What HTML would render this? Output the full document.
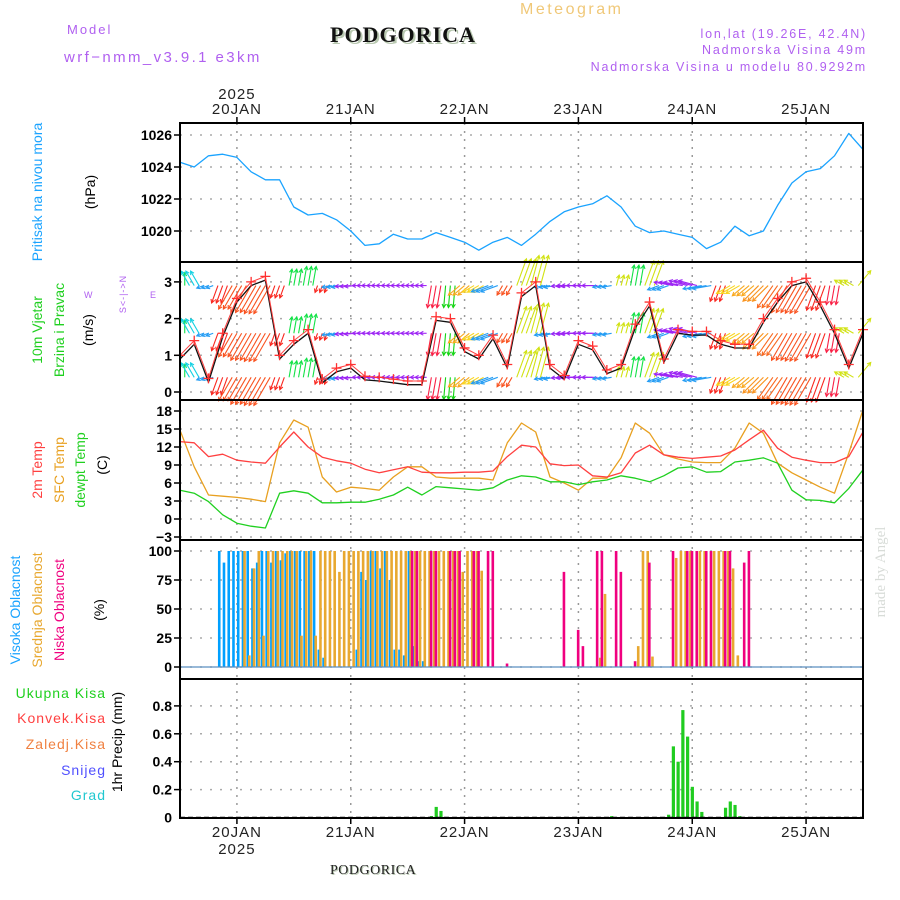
<!DOCTYPE html>
<html><head><meta charset="utf-8"><title>Meteogram Podgorica</title>
<style>
body{margin:0;background:#fff;width:900px;height:900px;overflow:hidden}
svg{display:block;font-family:"Liberation Sans",sans-serif}
.t{font-size:14px;letter-spacing:1px}
.tk{font-size:14px;fill:#000;font-weight:bold}
</style></head><body>
<svg id="chart" width="900" height="900" viewBox="0 0 900 900">
<g>
<text x="67" y="34" fill="#b060f0" style="font-size:13px;letter-spacing:2px">Model</text>
<text x="64" y="62" fill="#b060f0" style="font-size:15px;letter-spacing:2.4px">wrf−nmm_v3.9.1 e3km</text>
<text x="332" y="44" fill="#b8c8b0" style="font-family:'Liberation Serif',serif;font-weight:bold;font-size:22px;letter-spacing:1px">PODGORICA</text>
<text x="330" y="42" fill="#111" style="font-family:'Liberation Serif',serif;font-weight:bold;font-size:22px;letter-spacing:1px">PODGORICA</text>
<text x="520" y="14" fill="#f0c878" style="font-size:16px;letter-spacing:2.5px">Meteogram</text>
<text x="867" y="38" text-anchor="end" fill="#b060f0" style="font-size:12.5px;letter-spacing:1.8px">lon,lat (19.26E, 42.4N)</text>
<text x="867" y="54" text-anchor="end" fill="#b060f0" style="font-size:12.5px;letter-spacing:1.8px">Nadmorska Visina 49m</text>
<text x="867" y="71" text-anchor="end" fill="#b060f0" style="font-size:12.5px;letter-spacing:1.8px">Nadmorska Visina u modelu 80.9292m</text>
<text transform="translate(885,572) rotate(-90)" text-anchor="middle" fill="#d8dcd8" style="font-family:'Liberation Serif',serif;font-size:15px">made by Angel</text>
<text x="331" y="875" fill="#b8c8b0" style="font-family:'Liberation Serif',serif;font-size:14px;letter-spacing:0.5px">PODGORICA</text>
<text x="330" y="874" fill="#222" style="font-family:'Liberation Serif',serif;font-size:14px;letter-spacing:0.5px">PODGORICA</text>
</g>
<g>
<text transform="translate(42,192) rotate(-90)" text-anchor="middle" fill="#1aa3ff" style="font-size:14px">Pritisak na nivou mora</text>
<text transform="translate(95,192) rotate(-90)" text-anchor="middle" fill="#000" style="font-size:14px">(hPa)</text>
<text transform="translate(42,330) rotate(-90)" text-anchor="middle" fill="#20d020" style="font-size:14px">10m Vjetar</text>
<text transform="translate(64,330) rotate(-90)" text-anchor="middle" fill="#20d020" style="font-size:14px">Brzina i Pravac</text>
<text transform="translate(93,330) rotate(-90)" text-anchor="middle" fill="#000" style="font-size:14px">(m/s)</text>
<text transform="translate(126,294) rotate(-90)" text-anchor="middle" fill="#b060f0" style="font-size:9px;letter-spacing:1px">S&lt;-|-&gt;N</text>
<text x="84" y="298" fill="#b060f0" style="font-size:9px">W</text>
<text x="150" y="298" fill="#b060f0" style="font-size:9px">E</text>
<text transform="translate(42,470) rotate(-90)" text-anchor="middle" fill="#ff4040" style="font-size:14px">2m Temp</text>
<text transform="translate(64,470) rotate(-90)" text-anchor="middle" fill="#e8a020" style="font-size:14px">SFC Temp</text>
<text transform="translate(85,470) rotate(-90)" text-anchor="middle" fill="#20d020" style="font-size:14px">dewpt Temp</text>
<text transform="translate(107,465) rotate(-90)" text-anchor="middle" fill="#000" style="font-size:14px">(C)</text>
<text transform="translate(20,610) rotate(-90)" text-anchor="middle" fill="#1aa3ff" style="font-size:14px">Visoka Oblacnost</text>
<text transform="translate(42,610) rotate(-90)" text-anchor="middle" fill="#e8a830" style="font-size:14px">Srednja Oblacnost</text>
<text transform="translate(64,610) rotate(-90)" text-anchor="middle" fill="#f0007f" style="font-size:14px">Niska Oblacnost</text>
<text transform="translate(104,610) rotate(-90)" text-anchor="middle" fill="#000" style="font-size:14px">(%)</text>
<text x="106" y="698" text-anchor="end" fill="#20d020" class="t">Ukupna Kisa</text>
<text x="106" y="723" text-anchor="end" fill="#ff4040" class="t">Konvek.Kisa</text>
<text x="106" y="749" text-anchor="end" fill="#f08040" class="t">Zaledj.Kisa</text>
<text x="106" y="775" text-anchor="end" fill="#5050ff" class="t">Snijeg</text>
<text x="106" y="800" text-anchor="end" fill="#20c8d0" class="t">Grad</text>
<text transform="translate(122,742) rotate(-90)" text-anchor="middle" fill="#000" style="font-size:14px">1hr Precip (mm)</text>
</g>
<g id="grid"></g>
<g id="marks"></g>
<g id="frames"></g>
<g id="ticks"></g>
</svg>
<script>
const dayLabels=["20JAN","21JAN","22JAN","23JAN","24JAN","25JAN"];
const dayHours=[12,36,60,84,108,132];
const pressure=[1024.3,1024,1024.7,1024.8,1024.6,1023.7,1023.2,1023.2,1021.5,1021,1021.1,1020.7,1020,1019.1,1019.2,1019.8,1019.5,1019.5,1019.9,1019.6,1019.3,1018.8,1019.3,1019.6,1019.1,1019.8,1020.6,1021.2,1021.5,1021.7,1022.2,1021.5,1020.3,1019.9,1020,1019.8,1019.6,1018.9,1019.3,1020.3,1019.7,1020,1021.6,1023,1023.7,1023.9,1024.7,1026.1,1025.1];
const pressureTicks=[1020,1022,1024,1026];
const windSpeed=[0.9,1.3,0.27,1.5,2.45,2.9,3.05,0.9,1.3,1.6,0.25,0.55,0.65,0.33,0.3,0.25,0.2,0.2,1.95,1.9,1.1,0.9,1.45,0.65,2.6,2.9,0.65,0.35,1.3,1.15,0.5,0.65,1.75,2.35,0.8,1.6,1.55,1.55,1.3,1.2,1.2,1.9,2.45,2.9,3.0,2.35,1.6,0.65,1.6];
const windDir=[0,330,250,200,210,210,210,200,10,10,200,260,265,270,270,270,270,270,190,185,230,240,250,210,20,15,260,265,270,270,260,15,10,20,250,280,285,260,200,240,230,225,215,210,210,200,190,300,40];
const windTicks=[0,1,2,3];
const temp2m=[12.9,12.7,10.4,10.8,9.8,9.5,9.3,12,14.5,12,10.3,9.7,9.3,8.3,7.7,8.2,8.7,7.8,7.7,7.7,7.8,7.8,8,10.4,12.3,12,9.2,8.9,9,7.2,7,7.7,11,12.3,10.7,10.3,10.1,10.3,10.5,11.5,13.2,14.8,11.8,10.3,9.8,9.4,9.4,10.4,14.5];
const tempSfc=[14.8,8.7,4,3.8,3.6,3.3,2.9,12.7,16.5,15.3,7,4.5,5.3,5.1,4.8,7,8.7,8.7,7,6.8,6.8,6.8,6.5,12.7,16,14.5,7,6,4.8,6.8,6.8,10.2,16,14.3,10.7,10,9.5,9.4,9.4,11.8,16,14.3,9.3,7.7,6.5,5.3,4.3,11,18.2];
const tempDew=[4.8,4.3,2.9,0.7,-0.7,-1.2,-1.5,4.3,4.7,4.3,2.7,2.7,2.8,2.8,3.3,4,5.3,4,5.4,5.2,5,4.8,5.2,6.5,7.2,7,6.2,6.2,5.7,6.2,6.5,7.2,6.8,6.2,7.2,8.5,8.7,7.8,7.9,9.5,9.8,10.2,9.3,4.8,3.2,3.1,2.7,5.1,8.2];
const tempTicks=[-3,0,3,6,9,12,15,18];
const cloudHigh=[0,0,0,0,0,0,0,0,100,90,100,100,100,100,100,85,90,100,100,90,100,92,98,100,100,100,100,100,100,15,8,0,0,0,0,0,0,15,82,75,100,100,85,100,75,15,15,10,100,18,5,5,0,0,0,0,0,0,0,0,0,0,0,0,0,0,0,0,0,0,0,0,0,0,0,0,0,0,0,0,0,0,0,0,0,0,0,0,0,0,0,0,0,0,0,0,0,0,0,0,0,0,0,0,0,0,0,0,0,0,0,0,0,0,0,0,0,0,0,0,0,0,0,0,0,0,0,0,0,0,0,0,0,0,0,0,0,0,0,0,0,0,0,0];
const cloudMid=[0,0,0,0,0,0,0,0,0,0,0,0,0,100,10,85,100,27,100,100,100,100,100,100,100,27,100,100,27,100,100,100,100,82,100,100,100,100,100,100,100,100,100,100,100,100,100,100,100,100,100,100,100,100,100,100,100,100,100,82,100,100,100,83,0,0,0,0,0,0,0,0,0,0,0,0,0,0,0,0,0,0,0,0,0,0,0,0,8,63,0,0,0,0,0,0,18,100,100,9,0,0,0,0,94,100,100,100,0,100,100,0,100,100,100,100,85,10,0,0,0,0,0,0,0,0,0,0,0,0,0,0,0,0,0,0,0,0,0,0,0];
const cloudLow=[0,0,0,0,0,0,0,0,0,0,0,0,0,0,0,0,0,0,0,0,0,0,0,0,0,0,0,0,0,0,0,0,0,0,0,0,0,0,0,0,0,0,0,0,0,0,0,0,100,100,0,0,100,100,0,0,100,100,100,0,0,100,100,0,100,100,0,0,3,0,0,0,0,0,0,0,0,0,0,0,82,0,0,32,18,0,0,100,100,0,0,100,82,0,0,5,0,0,90,0,0,0,0,100,0,0,100,100,100,0,100,100,0,0,100,100,0,0,90,100,0,0,0,0,0,0,0,0,0,0,0,0,0,0,0,0,0,0,0,0,0,0,0];
const cloudTicks=[0,25,50,75,100];
const precipHours=[53,54,55,91,103,104,105,106,107,108,109,110,115,116,117,118];
const precipTotal=[0.01,0.076,0.047,0.01,0.02,0.51,0.4,0.77,0.58,0.22,0.115,0.04,0.07,0.115,0.09,0.01];
const precipTicks=[0,0.2,0.4,0.6,0.8];

const NS="http://www.w3.org/2000/svg";
const L=180,R=863,HOURS=144;
const X=h=>L+h*(R-L)/HOURS;
const P={top:123,wind:262,temp:400,cloud:540,prec:679,bot:818};
const yP=v=>231-(v-1020)*16;
const yW=v=>392-v*36.7;
const yT=v=>519-v*6;
const yC=v=>667-v*1.16;
const yR=v=>817.5-v*139.5;
const grid=document.getElementById('grid'),marks=document.getElementById('marks'),frames=document.getElementById('frames'),ticks=document.getElementById('ticks');
function mk(tag,attrs,parent){const e=document.createElementNS(NS,tag);for(const k in attrs)e.setAttribute(k,attrs[k]);parent.appendChild(e);return e;}
function line(x1,y1,x2,y2,st,sw,parent,dash){return mk('line',{x1,y1,x2,y2,stroke:st,'stroke-width':sw,'stroke-dasharray':dash||'none'},parent);}

dayHours.forEach((h,i)=>{
  const g=line(X(h),P.top,X(h),P.bot,'#999',1.5,grid,'2 6');
  
  
});
function hgrid(vals,fy,fmt){
  vals.forEach(v=>{
    const y=fy(v);
    const g=line(L,y,R,y,'#aaa',1.5,grid,'2 8');
    
    
    const tk=line(L-6,y,L,y,'#000',1.5,ticks);
    
    
    const t=mk('text',{x:L-8,y:y+5,'text-anchor':'end',class:'tk'},ticks);
    
    
    t.textContent=fmt?fmt(v):String(v);
  });
}
hgrid(pressureTicks,yP);
hgrid(windTicks,yW);
hgrid(tempTicks,yT,v=>v<0?'−'+(-v):String(v));
hgrid(cloudTicks,yC);
hgrid(precipTicks.slice(1),yR,v=>v.toFixed(1));
{const t=mk('text',{x:L-8,y:yR(0)+5,'text-anchor':'end',class:'tk'},ticks);t.textContent='0';}

function poly(arr,fy,color,name,w){
  const pts=arr.map((v,i)=>X(i*3).toFixed(1)+','+fy(v).toFixed(1)).join(' ');
  const p=mk('polyline',{points:pts,fill:'none',stroke:color,'stroke-width':w||1.3,'stroke-linejoin':'round'},marks);
  
  
}
poly(pressure,yP,'#1aa3ff','pressure-line');

function windColor(a){
  if(a>=190&&a<245)return 'hsl('+Math.round((a-190)*1.2+350)%360+',95%,55%)';
  if(a>=245&&a<300)return 'hsl('+(a>=262?275:205)+',90%,55%)';
  if(a>=170&&a<190)return 'hsl(120,85%,45%)';
  return 'hsl('+(a>300?185:(a<15?135:65))+',85%,48%)';
}
const rows=[0.4,1.6,2.9];
windDir.forEach((a,i)=>{
  const s=windSpeed[i];const len=5+s*9;const rad=a*Math.PI/180;
  const col=windColor(a);
  rows.forEach(r=>{
    for(let k=-1;k<=1;k++){
      const x0=X(i*3)+k*4.74,y0=yW(r);
      if(x0<L+1||x0>R-1)continue;
      const x1=x0+Math.sin(rad)*len,y1=y0-Math.cos(rad)*len;
      const ar=line(x0,y0,x1,y1,col,1.1,marks);
      
      
      const hx1=x1-Math.sin(rad-0.5)*4,hy1=y1+Math.cos(rad-0.5)*4,hx2=x1-Math.sin(rad+0.5)*4,hy2=y1+Math.cos(rad+0.5)*4;
      const hd=mk('polyline',{points:hx1+','+hy1+' '+x1+','+y1+' '+hx2+','+hy2,fill:'none',stroke:col,'stroke-width':1.1},marks);
      
      
    }
  });
});
poly(windSpeed,yW,'#111','wind-speed-line',1.3);
poly(windSpeed.map(v=>v+0.1),yW,'#ff4040','wind-gust-line',1);
windSpeed.forEach((v,i)=>{
  const x=X(i*3),y=yW(v+0.1);
  const g=mk('path',{d:`M${x-5},${y}H${x+5}M${x},${y-5}V${y+5}`,stroke:'#ff3030','stroke-width':1.3},marks);
  
  
});

poly(tempSfc,yT,'#e8a020','sfc-temp-line');
poly(temp2m,yT,'#ff4040','2m-temp-line');
poly(tempDew,yT,'#20d020','dewpoint-line');

function bars(arr,color,off,name){
  arr.forEach((v,h)=>{
    if(v<=0)return;
    const x=X(h)+off;if(x>R-2)return;
    const b=mk('rect',{x:x,y:yC(v),width:2.6,height:yC(0)-yC(v),fill:color},marks);
    
    
  });
}
bars(cloudHigh,'#00a0ff',0,'cloud-high-bar');
bars(cloudMid,'#e8a830',1.6,'cloud-mid-bar');
bars(cloudLow,'#f0007f',3.2,'cloud-low-bar');
{const b=line(L,yC(0),R,yC(0),'#5a8fc0',1.2,marks);}

precipHours.forEach((h,i)=>{
  const v=precipTotal[i];
  const b=mk('rect',{x:X(h)-1.5,y:yR(v),width:3.2,height:yR(0)-yR(v),fill:'#20cc20'},marks);
  
  
});
{const b=line(L,yR(0),R,yR(0),'#000',1.5,marks,'5 3');}

[P.top,P.wind,P.temp,P.cloud,P.prec].forEach((t,i)=>{
  const b=[P.wind,P.temp,P.cloud,P.prec,P.bot][i];
  const r=mk('rect',{x:L,y:t,width:R-L,height:b-t,fill:'none',stroke:'#000','stroke-width':2},frames);
  
  
});
dayHours.forEach((h,i)=>{
  const x=X(h);
  const t1=line(x,P.top-6,x,P.top,'#000',1.5,ticks);
  const t2=line(x,P.bot,x,P.bot+6,'#000',1.5,ticks);
  const a=mk('text',{x:x,y:114,'text-anchor':'middle',fill:'#222',style:'font-size:15px;letter-spacing:1px'},ticks);
  a.textContent=dayLabels[i];
  const b=mk('text',{x:x,y:837,'text-anchor':'middle',fill:'#222',style:'font-size:15px;letter-spacing:1px'},ticks);
  b.textContent=dayLabels[i];
});
{const a=mk('text',{x:X(12),y:99,'text-anchor':'middle',fill:'#222',style:'font-size:15px;letter-spacing:1px'},ticks);a.textContent='2025';
const b=mk('text',{x:X(12),y:854,'text-anchor':'middle',fill:'#222',style:'font-size:15px;letter-spacing:1px'},ticks);b.textContent='2025';}
</script>
</body></html>
